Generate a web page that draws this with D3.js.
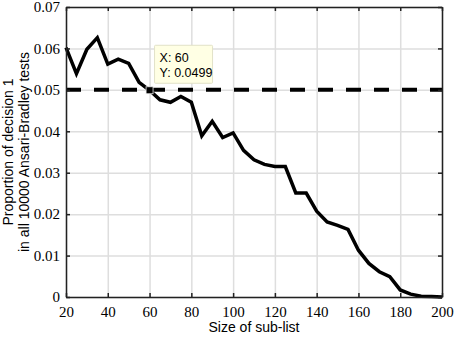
<!DOCTYPE html>
<html>
<head>
<meta charset="UTF-8">
<title>Ansari-Bradley decision proportion</title>
<script src="https://d3js.org/d3.v7.min.js"></script>
<style>
  body { margin: 0; background: #fff; }
</style>
</head>
<body>
<script>
// sub-list sizes and proportion of decision 1
var sizes = [20, 25, 30, 35, 40, 45, 50, 55, 60, 65, 70, 75, 80, 85, 90, 95, 100,
             105, 110, 115, 120, 125, 130, 135, 140, 145, 150, 155, 160, 165, 170,
             175, 180, 185, 190, 195, 200];
var proportions = [0.0602, 0.0539, 0.0598, 0.0626, 0.0562, 0.0574, 0.0564, 0.0518, 0.0499,
                   0.0476, 0.0470, 0.0484, 0.0470, 0.0389, 0.0424, 0.0385, 0.0396,
                   0.0354, 0.0331, 0.0320, 0.0315, 0.0315, 0.0251, 0.0251, 0.0207,
                   0.0181, 0.0173, 0.0163, 0.0113, 0.0081, 0.0061, 0.0049, 0.0017,
                   0.0007, 0.0002, 0.0001, 0.0000];
var threshold = 0.05;
var xTicks = [20, 40, 60, 80, 100, 120, 140, 160, 180, 200];
var yTicks = [0, 0.01, 0.02, 0.03, 0.04, 0.05, 0.06, 0.07];
var tipX = 60, tipY = 0.0499;

var width = 454, height = 337;
var margin = { top: 7, right: 12, bottom: 40, left: 66 };
var w = width - margin.left - margin.right;
var h = height - margin.top - margin.bottom;

var data = sizes.map(function (s, i) { return { x: s, y: proportions[i] }; });

var svg = d3.select("body").append("svg")
    .attr("width", width)
    .attr("height", height)
    .style("display", "block");

var g = svg.append("g")
    .attr("transform", "translate(" + margin.left + "," + margin.top + ")");

var x = d3.scaleLinear().domain([20, 200]).range([0, w]);
var y = d3.scaleLinear().domain([0, 0.07]).range([h, 0]);

// grid
g.append("g")
    .attr("transform", "translate(0," + h + ")")
    .call(d3.axisBottom(x).tickValues(xTicks).tickSize(-h).tickFormat(""))
    .call(function (a) { a.select(".domain").remove(); })
    .selectAll("line").attr("stroke", "#dedede").attr("stroke-width", 1.5);
g.append("g")
    .call(d3.axisLeft(y).tickValues(yTicks).tickSize(-w).tickFormat(""))
    .call(function (a) { a.select(".domain").remove(); })
    .selectAll("line").attr("stroke", "#dedede").attr("stroke-width", 1.5);

// threshold line
g.append("line")
    .attr("x1", 0).attr("x2", w)
    .attr("y1", y(threshold)).attr("y2", y(threshold))
    .attr("stroke", "#000")
    .attr("stroke-width", 4)
    .attr("stroke-dasharray", "15,13");

// data line
var line = d3.line()
    .x(function (d) { return x(d.x); })
    .y(function (d) { return y(d.y); });

g.append("path")
    .datum(data)
    .attr("d", line)
    .attr("fill", "none")
    .attr("stroke", "#000")
    .attr("stroke-width", 3.5)
    .attr("stroke-linejoin", "miter");

// axes (ticks inward, closed box)
var serif = "'Liberation Serif', 'Times New Roman', serif";
var axBottom = g.append("g")
    .attr("transform", "translate(0," + h + ")")
    .call(d3.axisBottom(x).tickValues(xTicks).tickSizeInner(-4).tickSizeOuter(0).tickPadding(9));
var axLeft = g.append("g")
    .call(d3.axisLeft(y).tickValues(yTicks).tickFormat(function (d) { return d === 0 ? "0" : d3.format(".2f")(d); })
        .tickSizeInner(-4).tickSizeOuter(0).tickPadding(6));
var axTop = g.append("g")
    .call(d3.axisTop(x).tickValues(xTicks).tickSizeInner(-4).tickSizeOuter(0).tickFormat(""));
var axRight = g.append("g")
    .attr("transform", "translate(" + w + ",0)")
    .call(d3.axisRight(y).tickValues(yTicks).tickSizeInner(-4).tickSizeOuter(0).tickFormat(""));

[axBottom, axLeft, axTop, axRight].forEach(function (a) {
    a.attr("font-family", serif).attr("font-size", 15);
    a.select(".domain").attr("stroke", "#222").attr("stroke-width", 1.5);
    a.selectAll(".tick line").attr("stroke", "#222").attr("stroke-width", 1.5);
    a.selectAll(".tick text").attr("fill", "#000");
});

// data tip
g.append("rect")
    .attr("x", x(tipX) - 3.5).attr("y", y(tipY) - 3.5)
    .attr("width", 7).attr("height", 7)
    .attr("fill", "#000").attr("stroke", "#eee").attr("stroke-width", 0.8);

var tip = g.append("g")
    .attr("transform", "translate(" + (x(tipX) + 5) + "," + (y(tipY) - 45) + ")");
tip.append("rect")
    .attr("width", 58).attr("height", 38)
    .attr("rx", 1)
    .attr("fill", "#ffffe4")
    .attr("stroke", "#e2e2c8");
tip.selectAll("text")
    .data(["X: " + tipX, "Y: " + tipY])
    .join("text")
    .attr("x", 5)
    .attr("y", function (d, i) { return 17 + i * 15; })
    .style("font-family", "'Liberation Sans', Arial, sans-serif")
    .style("font-size", "12.5px")
    .attr("fill", "#000")
    .text(function (d) { return d; });

// axis labels
var sans = "'Liberation Sans', Arial, sans-serif";
svg.append("text")
    .attr("x", margin.left + w / 2)
    .attr("y", 332)
    .attr("text-anchor", "middle")
    .style("font-family", sans)
    .style("font-size", "14px")
    .text("Size of sub-list");

var ylab = svg.append("text")
    .attr("transform", "translate(13," + (margin.top + h / 2) + ") rotate(-90)")
    .attr("text-anchor", "middle")
    .style("font-family", sans)
    .style("font-size", "14px");
ylab.append("tspan").attr("x", 0).attr("dy", 0).text("Proportion of decision 1");
ylab.append("tspan").attr("x", 0).attr("dy", "1.12em").text("in all 10000 Ansari-Bradley tests");
</script>
</body>
</html>
